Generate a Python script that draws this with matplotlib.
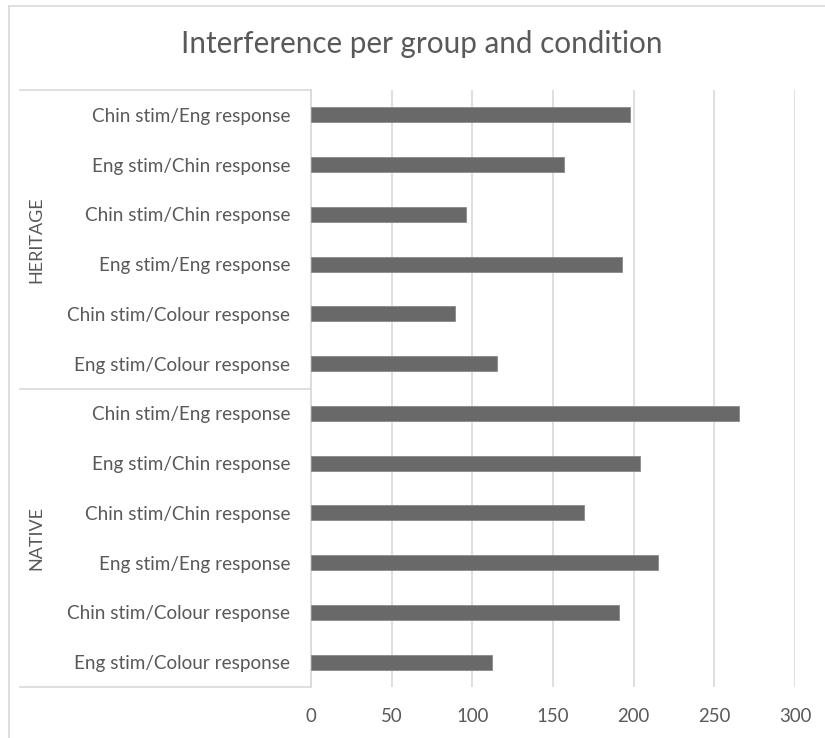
import matplotlib
matplotlib.use("Agg")
import matplotlib.pyplot as plt
from matplotlib.lines import Line2D
import matplotlib.transforms as mtransforms

plt.rcParams['font.family'] = ['Lato', 'DejaVu Sans']

# Data
groups = ["HERITAGE", "NATIVE"]
conditions = [
    "Chin stim/Eng response",
    "Eng stim/Chin response",
    "Chin stim/Chin response",
    "Eng stim/Eng response",
    "Chin stim/Colour response",
    "Eng stim/Colour response",
]
heritage_values = [198, 157, 96, 193, 89, 115]
native_values = [265, 204, 169, 215, 191, 112]
x_ticks = [0, 50, 100, 150, 200, 250, 300]

TEXT = "#595959"
GRID = "#d9d9d9"
BAR = "#696969"

W, H = 825, 738
fig = plt.figure(figsize=(W / 100, H / 100), dpi=100)
fig.patch.set_facecolor("white")

left, right, top, bottom = 311, 795, 90, 687
ax = fig.add_axes([left / W, 1 - bottom / H, (right - left) / W, (bottom - top) / H])

labels = conditions + conditions
values = heritage_values + native_values
n = len(values)
ypos = list(range(n))
ax.barh(ypos, values, height=0.3, color=BAR, edgecolor="#8a8a8a", linewidth=0.6, zorder=3)

ax.set_xlim(0, 300)
ax.set_ylim(n - 0.5, -0.5)
ax.set_xticks(x_ticks)
ax.set_xticklabels([str(t) for t in x_ticks], fontsize=13.4, color=TEXT)
ax.set_yticks(ypos)
ax.set_yticklabels(labels, fontsize=13.6, color=TEXT)
ax.tick_params(axis="both", length=0)
ax.tick_params(axis="x", pad=15)
ax.tick_params(axis="y", pad=15)
ax.grid(axis="x", color=GRID, linewidth=1.2, zorder=0)
for s in ["top", "right", "bottom"]:
    ax.spines[s].set_visible(False)
ax.spines["left"].set_color(GRID)
ax.spines["left"].set_linewidth(1.2)

# Multi-level category frame: horizontal separators across the label area
trans = mtransforms.blended_transform_factory(fig.transFigure, ax.transData)
for yb in [-0.5, 5.5, n - 0.5]:
    fig.add_artist(Line2D([20 / W, left / W], [yb, yb], transform=trans,
                          color=GRID, linewidth=1.2))

# Group labels
for gi, g in enumerate(groups):
    yc = gi * len(conditions) + (len(conditions) - 1) / 2
    fig.text(36 / W, yc, g, transform=trans, rotation=90, ha="center",
             va="center", fontsize=13, color=TEXT)

# Title
fig.text(422 / W, 1 - 44 / H, "Interference per group and condition",
         ha="center", va="center", fontsize=21.3, color=TEXT)

# Chart outer border
fig.add_artist(Line2D([9 / W, 9 / W], [0, 1 - 6 / H], transform=fig.transFigure,
                      color=GRID, linewidth=1.2))
fig.add_artist(Line2D([9 / W, 1], [1 - 6 / H, 1 - 6 / H], transform=fig.transFigure,
                      color=GRID, linewidth=1.2))

fig.savefig("out.png", dpi=100)
